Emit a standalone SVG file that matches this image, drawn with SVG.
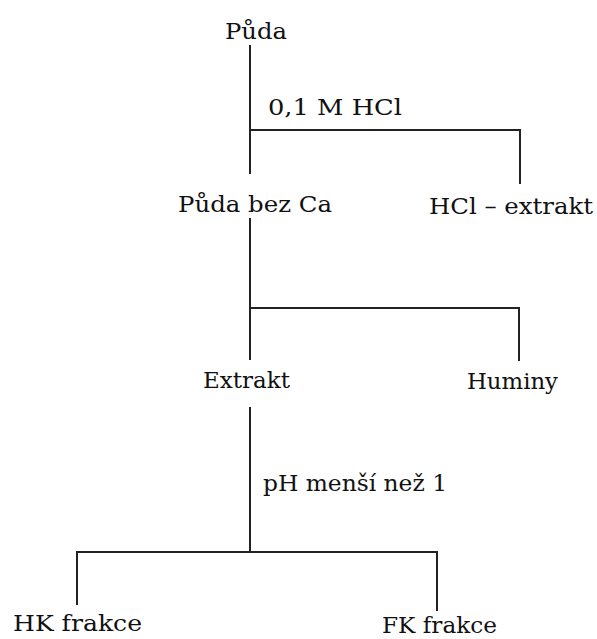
<svg xmlns="http://www.w3.org/2000/svg" width="597" height="639" viewBox="0 0 597 639">
<style>
.t{font-family:"DejaVu Serif","Liberation Serif",serif;font-size:22px;fill:#111;}
.c{stroke:#222;stroke-width:2;fill:none;}
</style>
<rect width="597" height="639" fill="#fff"/>
<g id="connectors">
<path class="c" d="M250,45 V174 M250,130 H520 V184"/>
<path class="c" d="M250,218 V360 M250,308 H519 V361"/>
<path class="c" d="M250,407 V552 M77,605 V552 H437 V611"/>
<text class="t" x="268" y="115" textLength="134" lengthAdjust="spacingAndGlyphs">0,1 M HCl</text>
<text class="t" x="263" y="491" textLength="184" lengthAdjust="spacingAndGlyphs">pH menší než 1</text>
</g>
<g id="puda"><text class="t" x="225" y="39" textLength="62" lengthAdjust="spacingAndGlyphs">Půda</text></g>
<g id="puda-bez-ca"><text class="t" x="178" y="212" textLength="154" lengthAdjust="spacingAndGlyphs">Půda bez Ca</text></g>
<g id="hcl-extrakt"><text class="t" x="429" y="214" textLength="164" lengthAdjust="spacingAndGlyphs">HCl – extrakt</text></g>
<g id="extrakt"><text class="t" x="203" y="388" textLength="87" lengthAdjust="spacingAndGlyphs">Extrakt</text></g>
<g id="huminy"><text class="t" x="467" y="389" textLength="91" lengthAdjust="spacingAndGlyphs">Huminy</text></g>
<g id="hk-frakce"><text class="t" x="13" y="631" textLength="129" lengthAdjust="spacingAndGlyphs">HK frakce</text></g>
<g id="fk-frakce"><text class="t" x="382" y="633" textLength="115" lengthAdjust="spacingAndGlyphs">FK frakce</text></g>
</svg>
